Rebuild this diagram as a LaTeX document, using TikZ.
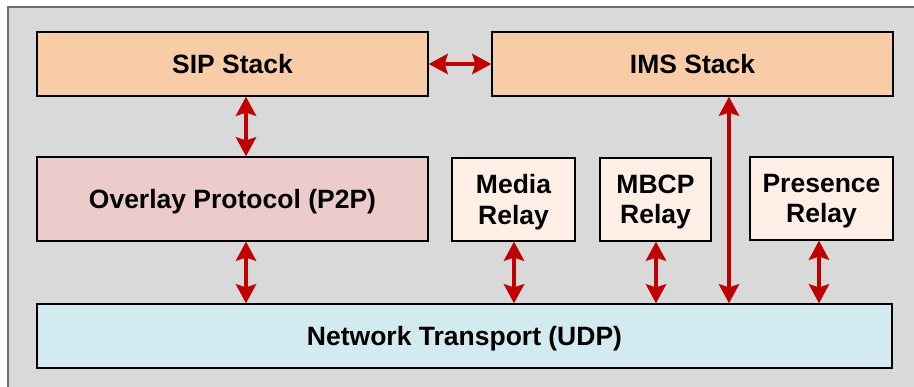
\documentclass[tikz,border=0pt]{standalone}
\usepackage{fontspec}
\setmainfont{Liberation Sans}
\usetikzlibrary{arrows.meta}

\definecolor{panelgray}{HTML}{D9D9D9}
\definecolor{framegray}{HTML}{6E6E6E}
\definecolor{stackfill}{HTML}{F9CCA8}
\definecolor{overlayfill}{HTML}{EBCCCB}
\definecolor{relayfill}{HTML}{FDEFE6}
\definecolor{netfill}{HTML}{D2EAF0}
\definecolor{linkred}{HTML}{C00000}

\tikzset{
  layer/.style={draw=black, line width=1.3pt, rectangle, inner sep=0pt,
    text depth=0pt, align=center, font=\bfseries\fontsize{26.5}{30.5}\selectfont},
  stackbox/.style={layer, fill=stackfill},
  overlaybox/.style={layer, fill=overlayfill},
  relaybox/.style={layer, fill=relayfill},
  netbox/.style={layer, fill=netfill},
  link/.style={draw=linkred, line width=4pt,
    {Stealth[length=19pt,width=20pt,inset=3pt]}-{Stealth[length=19pt,width=20pt,inset=3pt]}},
}

\begin{document}
\begin{tikzpicture}[x=1pt, y=-1pt]
  \useasboundingbox (0,0) rectangle (914,387);
  \clip (0,0) rectangle (914,387);

  % grey panel behind the architecture
  \draw[fill=panelgray, draw=framegray, line width=1.3pt] (8,7) rectangle (930,400);

  % layers
  \node[stackbox, minimum width=391pt, minimum height=64pt] (sip) at (232.5,64) {SIP Stack};
  \node[stackbox, minimum width=401pt, minimum height=64pt] (ims) at (692.5,64) {IMS Stack};
  \node[overlaybox, minimum width=391pt, minimum height=84pt] (overlay) at (232.5,199) {Overlay Protocol (P2P)};
  \node[relaybox, minimum width=123pt, minimum height=83pt] (media) at (513.5,199.5) {Media\\Relay};
  \node[relaybox, minimum width=111pt, minimum height=83pt] (mbcp) at (655.5,199.5) {MBCP\\Relay};
  \node[relaybox, minimum width=143pt, minimum height=83pt] (presence) at (821.5,198.5) {Presence\\Relay};
  \node[netbox, minimum width=855pt, minimum height=64pt] (net) at (464.5,336) {Network Transport (UDP)};

  % x positions of the vertical links
  \coordinate (xsip) at (246,0);
  \coordinate (xims) at (729,0);
  \coordinate (xmedia) at (514,0);
  \coordinate (xmbcp) at (656,0);
  \coordinate (xpres) at (819,0);

  % links between layers
  \draw[link] (sip.east) -- (ims.west);
  \draw[link] (sip.south -| xsip) -- (overlay.north -| xsip);
  \draw[link] (overlay.south -| xsip) -- (net.north -| xsip);
  \draw[link] (media.south -| xmedia) -- (net.north -| xmedia);
  \draw[link] (mbcp.south -| xmbcp) -- (net.north -| xmbcp);
  \draw[link] (ims.south -| xims) -- (net.north -| xims);
  \draw[link] (presence.south -| xpres) -- (net.north -| xpres);
\end{tikzpicture}
\end{document}
